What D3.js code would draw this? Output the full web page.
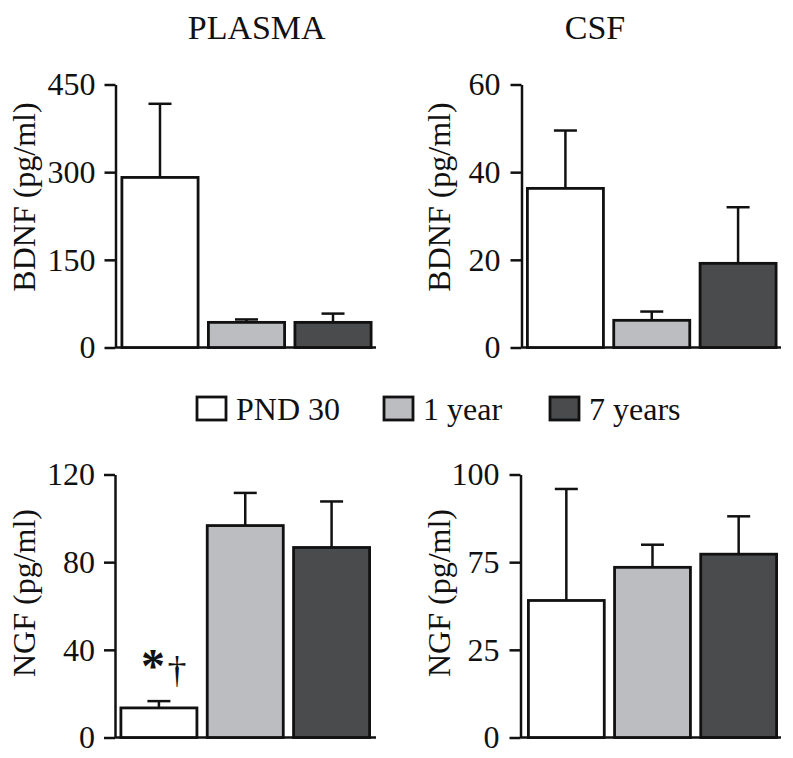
<!DOCTYPE html>
<html>
<head>
<meta charset="utf-8">
<script src="https://cdn.jsdelivr.net/npm/d3@7"></script>
<style>
  body { margin: 0; background: white; }
  svg { display: block; font-family: "Liberation Serif", "Times New Roman", serif; }
  .axis path, .axis line { stroke: #111; stroke-width: 2.5; }
</style>
</head>
<body>
<div id="chart"></div>
<script>
const groups = ["PND 30", "1 year", "7 years"];
const fills = ["#ffffff", "#bcbdc0", "#4a4b4d"];

// means and SEM
const plasmaBDNF = [291, 43, 43],
    plasmaBDNFSem = [126, 5, 15];
const csfBDNF = [36.3, 6.2, 19.2],
    csfBDNFSem = [13.2, 2, 12.8];
const plasmaNGF = [13.5, 96.7, 86.7],
    plasmaNGFSem = [3.1, 14.9, 21];
const csfNGF = [52.1, 64.7, 69.7],
    csfNGFSem = [42.4, 8.6, 14.4];

const plasmaBDNFTicks = [0, 150, 300, 450];
const csfBDNFTicks = [0, 20, 40, 60];
const plasmaNGFTicks = [0, 40, 80, 120];
// the CSF NGF axis is printed with these labels on evenly spaced ticks
const csfNGFTicks = [0, 100 / 3, 200 / 3, 100];
const csfNGFTickLabels = ["0", "25", "75", "100"];

const width = 793, height = 758;
const font = '"Liberation Serif", "Times New Roman", serif';

var svg = d3.select("#chart").append("svg")
    .attr("width", width)
    .attr("height", height);

svg.append("rect").attr("width", width).attr("height", height).attr("fill", "white");

const panels = [
    {values: plasmaBDNF, sem: plasmaBDNFSem, ticks: plasmaBDNFTicks, labels: null, axisX: 115.5, x0: 120.5, x1: 372.5, xEnd: 376, yTop: 84.5, yBottom: 347.5, pad: 20, title: "BDNF (pg/ml)", titleX: 35, titleY: 197},
    {values: csfBDNF, sem: csfBDNFSem, ticks: csfBDNFTicks, labels: null, axisX: 521.5, x0: 526, x1: 777.5, xEnd: 781, yTop: 84.5, yBottom: 347.5, pad: 21, title: "BDNF (pg/ml)", titleX: 450, titleY: 197},
    {values: plasmaNGF, sem: plasmaNGFSem, ticks: plasmaNGFTicks, labels: null, axisX: 115, x0: 119.5, x1: 371, xEnd: 376, yTop: 474.5, yBottom: 737.5, pad: 20, title: "NGF (pg/ml)", titleX: 35, titleY: 593},
    {values: csfNGF, sem: csfNGFSem, ticks: csfNGFTicks, labels: csfNGFTickLabels, axisX: 520.5, x0: 527, x1: 778, xEnd: 781, yTop: 474.5, yBottom: 737.5, pad: 21, title: "NGF (pg/ml)", titleX: 450, titleY: 593}
];

panels.forEach((p, pi) => {
    var g = svg.append("g");

    var y = d3.scaleLinear()
        .domain([0, d3.max(p.ticks)])
        .range([p.yBottom, p.yTop]);

    var x = d3.scaleBand()
        .domain(groups)
        .range([p.x0, p.x1])
        .paddingInner(0.087)
        .paddingOuter(0);

    // y axis
    var axis = d3.axisLeft(y)
        .tickValues(p.ticks)
        .tickSize(11)
        .tickSizeOuter(0)
        .tickPadding(p.pad - 11);
    if (p.labels) axis.tickFormat((d, i) => p.labels[i]);
    else axis.tickFormat(d3.format("d"));

    var ax = g.append("g")
        .attr("class", "axis")
        .attr("transform", `translate(${p.axisX},0)`)
        .call(axis);
    ax.attr("font-family", font).attr("font-size", 32);
    ax.selectAll("text").attr("fill", "#111");

    // baseline
    g.append("line")
        .attr("x1", p.axisX)
        .attr("x2", p.xEnd)
        .attr("y1", y(0))
        .attr("y2", y(0))
        .attr("stroke", "#111")
        .attr("stroke-width", 2.5);

    // error bars (drawn first so the bar top covers the whisker foot)
    g.selectAll(".err").data(p.values)
        .join("g")
        .attr("class", "err")
        .each(function(d, i) {
            var cx = x(groups[i]) + x.bandwidth() / 2;
            var top = y(d + p.sem[i]);
            d3.select(this).append("line")
                .attr("x1", cx).attr("x2", cx)
                .attr("y1", y(d)).attr("y2", top)
                .attr("stroke", "#111").attr("stroke-width", 2.5);
            d3.select(this).append("line")
                .attr("x1", cx - 11.5).attr("x2", cx + 11.5)
                .attr("y1", top).attr("y2", top)
                .attr("stroke", "#111").attr("stroke-width", 2.5);
        });

    // bars
    g.selectAll(".bar").data(p.values)
        .join("rect")
        .attr("class", "bar")
        .attr("x", (d, i) => x(groups[i]) + 1.4)
        .attr("y", d => y(d))
        .attr("width", x.bandwidth() - 2.8)
        .attr("height", d => y(0) - y(d))
        .attr("fill", (d, i) => fills[i])
        .attr("stroke", "#111")
        .attr("stroke-width", 2.8);

    // axis title
    g.append("text")
        .attr("transform", `translate(${p.titleX},${p.titleY}) rotate(-90)`)
        .attr("text-anchor", "middle")
        .attr("font-size", 32)
        .attr("fill", "#111")
        .text(p.title);

    // significance marks on plasma NGF, PND 30
    if (pi === 2) {
        var cx = x(groups[0]) + x.bandwidth() / 2;
        var top = y(p.values[0] + p.sem[0]);
        g.append("text")
            .attr("x", cx - 6)
            .attr("y", top - 19)
            .attr("text-anchor", "middle")
            .attr("font-size", 48)
            .attr("font-weight", "bold")
            .attr("fill", "#111")
            .text("*");
        g.append("text")
            .attr("x", cx + 18)
            .attr("y", top - 18)
            .attr("text-anchor", "middle")
            .attr("font-size", 38)
            .attr("fill", "#111")
            .text("\u2020");
    }
});

// column titles
svg.append("text")
    .attr("x", 256.7).attr("y", 38.5)
    .attr("text-anchor", "middle")
    .attr("font-size", 34)
    .attr("fill", "#111")
    .text("PLASMA");

svg.append("text")
    .attr("x", 595).attr("y", 38.5)
    .attr("text-anchor", "middle")
    .attr("font-size", 34)
    .attr("fill", "#111")
    .text("CSF");

// legend
const legendX = [197, 384, 550];
var legend = svg.append("g");
groups.forEach((name, i) => {
    legend.append("rect")
        .attr("x", legendX[i])
        .attr("y", 397)
        .attr("width", 29)
        .attr("height", 23)
        .attr("fill", fills[i])
        .attr("stroke", "#111")
        .attr("stroke-width", 2.8);
    legend.append("text")
        .attr("x", legendX[i] + 39)
        .attr("y", 420)
        .attr("font-size", 32)
        .attr("fill", "#111")
        .text(name);
});
</script>
</body>
</html>
